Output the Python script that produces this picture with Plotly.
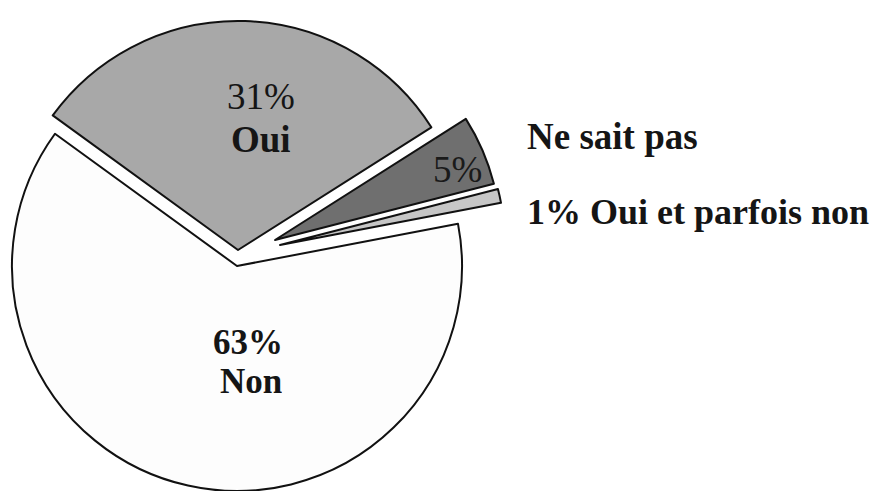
import plotly.graph_objects as go

# ---- data ----
labels = ["Oui", "Ne sait pas", "Oui et parfois non", "Non"]
values = [31, 5, 1, 63]
pct_text = ["31%", "5%", "1%", "63%"]

# ---- style ----
OFF = 8                    # page offset of the plot div (body margin)
W, H = 883 - 2 * OFF, 499 - 2 * OFF
radii = [229, 226, 225, 225]   # pie radius in px for each slice
colors = ["#a8a8a8", "#6f6f6f", "#c6c6c6", "#fdfdfd"]
# apex (pulled centre) of every slice, in page px
apex = [(238, 250), (275, 240), (280, 245), (237, 266)]
FONT = "Liberation Serif, Times New Roman, serif"

fig = go.Figure()
for i, (px_, py_) in enumerate(apex):
    cx, cy = px_ - OFF, py_ - OFF
    R = radii[i]
    fill = ["rgba(0,0,0,0)"] * len(values)
    lw = [0] * len(values)
    fill[i] = colors[i]
    lw[i] = 2
    fig.add_trace(go.Pie(
        labels=labels, values=values, sort=False, direction="clockwise",
        rotation=-54, textinfo="none", hoverinfo="label+percent",
        marker=dict(colors=fill, line=dict(color="#111111", width=lw)),
        domain=dict(x=[max(0, (cx - R) / W), min(1, (cx + R) / W)],
                    y=[max(0, 1 - (cy + R) / H), min(1, 1 - (cy - R) / H)]),
        showlegend=False,
    ))


def P(x, y):
    return (x - OFF) / W, 1 - (y - OFF) / H


def ann(text, x, y, size=37, bold=False, anchor="center", color="#151515",
        height=None):
    ax, ay = P(x, y)
    t = f"<b>{text}</b>" if bold else text
    fig.add_annotation(x=ax, y=ay, xref="paper", yref="paper", text=t,
                       showarrow=False, xanchor=anchor, yanchor="middle",
                       height=height,
                       font=dict(family=FONT, size=size, color=color))


ann(pct_text[0], 261, 96, height=40)
ann(labels[0], 261, 139, bold=True, height=40)
ann(pct_text[1], 458, 170, color="#1a1a1a")
ann(labels[1], 525, 136, bold=True, anchor="left")
ann(pct_text[2] + " " + labels[2], 525, 212, size=36, bold=True, anchor="left")
ann(pct_text[3], 248, 342, size=35, bold=True, height=36)
ann(labels[3], 251, 381, size=35, bold=True, height=36)

fig.update_layout(width=W, height=H, margin=dict(l=0, r=0, t=0, b=0),
                  paper_bgcolor="white", plot_bgcolor="white")
fig.write_html("out.html")
